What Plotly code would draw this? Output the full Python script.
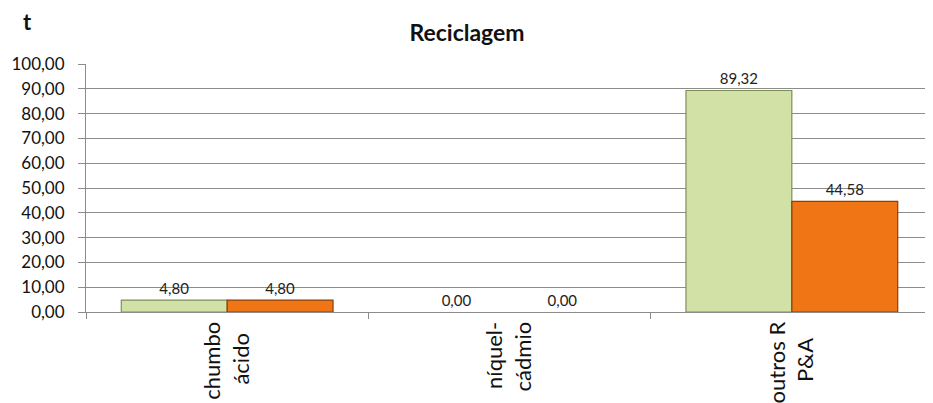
import plotly.graph_objects as go

NB = "\u00a0"
categories = ["chumbo<br>ácido" + NB * 2, "níquel-<br>cádmio", "outros R<br>P&A" + NB * 3]
series_a = [4.80, 0.00, 89.32]
series_b = [4.80, 0.00, 44.58]
y_ticks = [0, 10, 20, 30, 40, 50, 60, 70, 80, 90, 100]

FONT = "Lato, 'Open Sans', sans-serif"

# page body has an 8px margin: figure is sized/offset to compensate
W, H = 925, 395
L, T, B = 78, 56, 91
PW, PH = W - L, H - T - B

fig = go.Figure()
fig.add_trace(go.Bar(
    x=categories, y=series_a, name="A",
    marker=dict(color="#d2e2a6",
                line=dict(color="#7f8f5a", width=[1.2 if v > 0 else 0 for v in series_a])),
    texttemplate="%{y:.2f}", textposition="outside",
    textfont=dict(size=15, color="#222222", family=FONT), cliponaxis=False,
))
fig.add_trace(go.Bar(
    x=categories, y=series_b, name="B",
    marker=dict(color="#f07514",
                line=dict(color="#8a3f08", width=[1.2 if v > 0 else 0 for v in series_b])),
    texttemplate="%{y:.2f}", textposition="outside",
    textfont=dict(size=15, color="#222222", family=FONT), cliponaxis=False,
))

fig.update_layout(
    width=W, height=H,
    margin=dict(l=L, r=0, t=T, b=B, autoexpand=False),
    paper_bgcolor="white", plot_bgcolor="white",
    separators=",.",
    barmode="group", bargap=0.25, bargroupgap=0.0,
    showlegend=False,
    font=dict(family=FONT, color="#111111"),
    title=dict(text="<b>Reciclagem</b>", x=(467 - 8) / W, xanchor="center",
               y=1 - 25 / H, yanchor="middle", yref="container",
               font=dict(size=23, family=FONT, color="#111111")),
    annotations=[dict(text="<b>t</b>", xref="paper", yref="paper",
                      x=(19 - L) / PW, y=1 + (T - 14) / PH, xanchor="center", yanchor="middle",
                      showarrow=False, font=dict(size=22, family=FONT, color="#111111"))],
)
fig.update_yaxes(
    range=[0, 100], tickvals=y_ticks, tickformat=".2f",
    showgrid=True, gridcolor="#8c8c8c", gridwidth=1,
    showline=True, linecolor="#8c8c8c", linewidth=1,
    ticks="outside", ticklen=7, tickcolor="#8c8c8c", ticklabelstandoff=10,
    tickfont=dict(size=17, family=FONT, color="#111111"),
    zeroline=False, automargin=False,
)
fig.update_xaxes(
    showline=True, linecolor="#8c8c8c", linewidth=1,
    ticks="outside", ticklen=6, tickcolor="#8c8c8c", tickson="boundaries",
    tickangle=-90, tickfont=dict(size=22, family=FONT, color="#111111"),
    automargin=False,
)

fig.write_html("out.html")
